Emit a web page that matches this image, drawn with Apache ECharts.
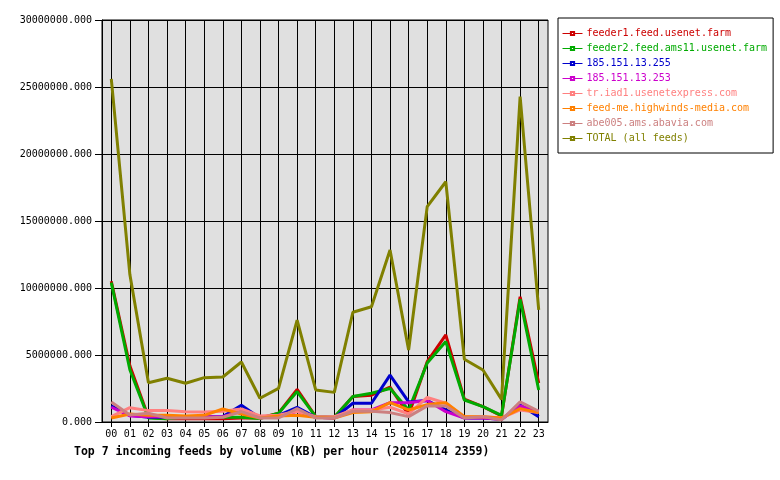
<!DOCTYPE html>
<html>
<head>
<meta charset="utf-8">
<script src="https://cdn.jsdelivr.net/npm/echarts@6/dist/echarts.min.js"></script>
<style>
html,body{margin:0;padding:0;background:#fff;}
#chart{width:780px;height:480px;}
</style>
</head>
<body>
<div id="chart"></div>
<script>
var hours=["00","01","02","03","04","05","06","07","08","09","10","11","12","13","14","15","16","17","18","19","20","21","22","23"];
var feedNames=["feeder1.feed.usenet.farm","feeder2.feed.ams11.usenet.farm","185.151.13.255","185.151.13.253","tr.iad1.usenetexpress.com","feed-me.highwinds-media.com","abe005.ams.abavia.com","TOTAL (all feeds)"];
var feedColors=["#cc0000","#00aa00","#0000cc","#cc00cc","#ff8080","#ff8000","#cc8080","#808000"];

// values in KB
var feeder1=[10500000,4200000,350000,250000,250000,250000,250000,300000,300000,650000,2440000,400000,350000,1900000,2000000,2600000,520000,4500000,6500000,1700000,1150000,450000,9350000,2900000];
var feeder2=[10400000,3900000,300000,250000,400000,400000,350000,350000,270000,650000,2270000,400000,350000,1900000,2140000,2500000,900000,4400000,6000000,1640000,1150000,500000,9160000,2390000];
var ip255=[1200000,500000,350000,350000,350000,350000,400000,1250000,300000,500000,1100000,350000,300000,1400000,1400000,3500000,1500000,1600000,900000,300000,300000,200000,1270000,400000];
var ip253=[1100000,450000,400000,400000,400000,400000,400000,800000,350000,400000,800000,350000,300000,900000,900000,1440000,1440000,1600000,770000,300000,300000,200000,1200000,800000];
var usenetexpress=[400000,1070000,850000,850000,770000,750000,800000,970000,450000,500000,800000,400000,400000,900000,900000,1100000,600000,1840000,1400000,400000,400000,300000,900000,700000];
var highwinds=[300000,600000,500000,500000,450000,500000,970000,600000,300000,450000,500000,350000,300000,700000,770000,1440000,900000,1300000,1440000,400000,400000,300000,1000000,700000];
var abavia=[1500000,520000,650000,300000,300000,300000,350000,770000,300000,300000,1000000,300000,300000,800000,800000,700000,400000,1200000,1200000,300000,400000,150000,1500000,800000];
var total=[25600000,11000000,2930000,3260000,2890000,3310000,3360000,4480000,1770000,2510000,7610000,2390000,2210000,8190000,8600000,12840000,5370000,16070000,17930000,4680000,3880000,1690000,24280000,8360000];
var yTicks=[0,5000000,10000000,15000000,20000000,25000000,30000000];

var feedData=[feeder1,feeder2,ip255,ip253,usenetexpress,highwinds,abavia,total];
var mono='"DejaVu Sans Mono", "Liberation Mono", monospace';

var chart=echarts.init(document.getElementById("chart"),null,{renderer:"canvas"});
var series=[];
var legendData=[];
for(var a=0;a<feedNames.length;a++){
    series.push({
        name:feedNames[a],
        type:'line',
        data:feedData[a],
        symbol:'emptyRect',
        symbolSize:4,
        showSymbol:false,
        color:feedColors[a],
        lineStyle:{width:3,color:feedColors[a]},
        emphasis:{disabled:true}
    });
    legendData.push({name:feedNames[a],textStyle:{color:feedColors[a]}});
}
var option={
    animation:false,
    backgroundColor:'#fff',
    title:{
        text:'Top 7 incoming feeds by volume (KB) per hour (20250114 2359)',
        left:74,
        top:446,
        padding:0,
        textStyle:{fontFamily:mono,fontSize:11.5,fontWeight:'bold',color:'#000'}
    },
    legend:{
        orient:'vertical',
        left:558,
        top:18,
        width:215,
        padding:[9,6,8,4],
        itemGap:2,
        itemWidth:20,
        itemHeight:4,
        backgroundColor:'#fff',
        borderColor:'#000',
        borderWidth:1,
        borderRadius:0,
        selectedMode:false,
        lineStyle:{width:1},
        itemStyle:{borderWidth:1},
        textStyle:{fontFamily:mono,fontSize:10,lineHeight:13,padding:[0,0,0,-1]},
        data:legendData
    },
    grid:{
        left:102,top:20,right:232,bottom:58,
        show:true,
        backgroundColor:'#e0e0e0',
        borderColor:'#000',
        borderWidth:1,
        containLabel:false
    },
    xAxis:{
        type:'category',
        data:hours,
        boundaryGap:true,
        axisLine:{lineStyle:{color:'#000',width:1}},
        axisTick:{show:true,alignWithLabel:true,length:5,lineStyle:{color:'#000'}},
        axisLabel:{color:'#000',fontFamily:mono,fontSize:10,margin:7,interval:0},
        splitLine:{show:true,alignWithLabel:true,lineStyle:{color:'#000',width:1}}
    },
    yAxis:{
        type:'value',
        min:yTicks[0],
        max:yTicks[yTicks.length-1],
        interval:5000000,
        axisLine:{show:true,lineStyle:{color:'#000',width:1}},
        axisTick:{show:true,length:7,lineStyle:{color:'#000'}},
        axisLabel:{
            color:'#000',fontFamily:mono,fontSize:10,margin:10,
            formatter:function(v){return v.toFixed(3);}
        },
        splitLine:{show:true,lineStyle:{color:'#000',width:1}}
    },
    series:series
};
chart.setOption(option);
</script>
</body>
</html>
